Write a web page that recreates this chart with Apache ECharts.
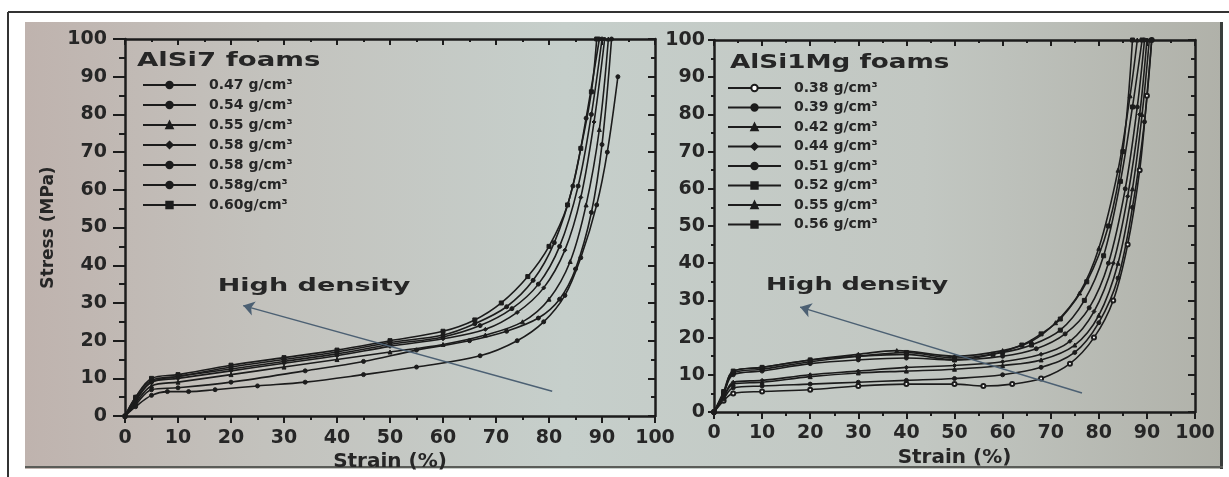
<!DOCTYPE html>
<html>
<head>
<meta charset="utf-8">
<script src="https://cdn.jsdelivr.net/npm/echarts@6/dist/echarts.min.js"></script>
<style>
html,body{margin:0;padding:0;background:#fff;}
#main{width:1229px;height:477px;}
</style>
</head>
<body>
<div id="main"></div>
<script>
// ---- AlSi7 foams (left panel) ----
var alsi7Labels = ['0.47 g/cm³','0.54 g/cm³','0.55 g/cm³','0.58 g/cm³','0.58 g/cm³','0.58g/cm³','0.60g/cm³'];
var alsi7Symbols = ['circle','circle','triangle','diamond','circle','circle','rect'];
var alsi7_047 = [[0,0],[2,2.5],[5,5.5],[8,6.5],[12,6.5],[17,7],[25,8],[34,9],[45,11],[55,13],[67,16],[74,20],[79,25],[83,32],[86,42],[89,56],[91,70],[93,90]];
var alsi7_054 = [[0,0],[2,3],[5,7],[10,7.5],[20,9],[34,12],[45,14.5],[55,17.5],[65,20],[72,22.5],[78,26],[82,31],[85,39],[88,54],[90,72],[91.8,100]];
var alsi7_055 = [[0,0],[2,3.5],[5,8],[10,9],[20,11],[30,13],[40,15],[50,17],[60,19],[68,21.5],[75,25],[80,31],[84,41],[87,56],[89.5,76],[91.2,100]];
var alsi7_058a = [[0,0],[2,4],[5,9],[10,10],[20,12],[30,14],[40,16],[50,18.5],[60,20.5],[68,23],[74,27.5],[79,34],[83,44],[86,58],[88.5,78],[90.5,100]];
var alsi7_058b = [[0,0],[2,4.5],[5,9],[10,10.5],[20,12.5],[30,14.5],[40,16.5],[50,19],[60,21],[67,24],[73,28.5],[78,35],[82,45],[85.5,61],[88,80],[90,100]];
var alsi7_058c = [[0,0],[2,5],[5,9.5],[10,10.5],[20,13],[30,15],[40,17],[50,19.5],[60,21.5],[66,24.5],[72,29],[77,36],[81,46],[84.5,61],[87,79],[89.5,100]];
var alsi7_060 = [[0,0],[2,5],[5,10],[10,11],[20,13.5],[30,15.5],[40,17.5],[50,20],[60,22.5],[66,25.5],[71,30],[76,37],[80,45],[83.5,56],[86,71],[88,86],[89,100]];
var alsi7Data = [alsi7_047, alsi7_054, alsi7_055, alsi7_058a, alsi7_058b, alsi7_058c, alsi7_060];

// ---- AlSi1Mg foams (right panel) ----
var mgLabels = ['0.38 g/cm³','0.39 g/cm³','0.42 g/cm³','0.44 g/cm³','0.51 g/cm³','0.52 g/cm³','0.55 g/cm³','0.56 g/cm³'];
var mgSymbols = ['emptyCircle','circle','triangle','diamond','circle','rect','triangle','rect'];
var mg_038 = [[0,0],[2,3],[4,5],[10,5.5],[20,6],[30,7],[40,7.5],[50,7.5],[56,7],[62,7.5],[68,9],[74,13],[79,20],[83,30],[86,45],[88.5,65],[90,85],[91,100]];
var mg_039 = [[0,0],[2,3.5],[4,6.5],[10,7],[20,7.5],[30,8],[40,8.5],[50,9],[60,10],[68,12],[75,16],[80,24],[84,36],[87,55],[89.5,78],[91,100]];
var mg_042 = [[0,0],[2,4],[4,7.5],[10,8],[20,9.5],[30,10.5],[40,11],[50,11.5],[60,12.5],[68,14],[75,18],[80,26],[84,40],[87,60],[89,80],[90.5,100]];
var mg_044 = [[0,0],[2,4],[4,8],[10,8.5],[20,10],[30,11],[40,12],[50,12.5],[60,13.5],[68,15.5],[74,19],[79,27],[83,40],[86,58],[88.5,80],[90,100]];
var mg_051 = [[0,0],[2,5],[4,10],[10,11],[20,13],[30,14],[40,14.5],[50,14],[60,15],[67,17],[73,21],[78,28],[82,40],[85.5,60],[88,82],[89.5,100]];
var mg_052 = [[0,0],[2,5],[4,10.5],[10,11.5],[20,13.5],[30,15],[40,16],[50,14.5],[60,16],[66,18],[72,22],[77,30],[81,42],[84.5,62],[87,82],[89,100]];
var mg_055 = [[0,0],[2,5],[4,11],[10,12],[20,14],[30,15.5],[38,16.5],[50,15],[60,16.5],[66,19],[71,24],[76,32],[80,44],[84,65],[86.5,85],[88,100]];
var mg_056 = [[0,0],[2,5.5],[4,11],[10,12],[20,14],[30,15],[40,15.5],[50,14],[58,15.5],[64,18],[68,21],[72,25],[77.5,35],[82,50],[85,70],[87,100]];
var mgData = [mg_038, mg_039, mg_042, mg_044, mg_051, mg_052, mg_055, mg_056];

// arrows "High density" [start, head] in data units
var arrow7 = [[80.6, 6.6], [22.3, 29.3]];
var arrowMg = [[76.5, 5.1], [17.9, 28.2]];

var FONT = '"DejaVu Sans", "Liberation Sans", sans-serif';
var INK = '#1c1c1c';
var TXT = '#262626';

var chart = echarts.init(document.getElementById('main'));

function makeSeries(labels, data, symbols, idx, arrow) {
    return labels.map(function (lab, i) {
        var s = {
            type: 'line',
            name: lab + '|' + i,
            xAxisIndex: idx * 2,
            yAxisIndex: idx * 2,
            data: data[i],
            smooth: 0.35,
            symbol: symbols[i],
            symbolSize: 4,
            showAllSymbol: true,
            clip: true,
            lineStyle: {color: INK, width: 1.6},
            itemStyle: {color: INK, borderColor: INK, borderWidth: 1},
            emphasis: {disabled: true}
        };
        if (i === 0) {
            s.markLine = {
                silent: true,
                symbol: ['none', 'arrow'],
                symbolSize: 11,
                label: {show: false},
                lineStyle: {color: '#4c6073', width: 1.5, type: 'solid'},
                data: [[{coord: arrow[0]}, {coord: arrow[1]}]]
            };
        }
        return s;
    });
}

function axisBase(grid) {
    return {
        gridIndex: grid, type: 'value', min: 0, max: 100, interval: 10,
        axisLine: {onZero: false, lineStyle: {color: INK, width: 2.5}},
        splitLine: {show: false}
    };
}

function xBottom(grid, gap) {
    var a = axisBase(grid);
    a.position = 'bottom';
    a.axisTick = {show: true, inside: false, length: 7, lineStyle: {color: INK, width: 2}};
    a.minorTick = {show: true, splitNumber: 2, length: 4, lineStyle: {color: INK, width: 2}};
    a.axisLabel = {fontFamily: FONT, fontWeight: 'bold', fontSize: 19, color: TXT, margin: 12};
    a.name = 'Strain (%)';
    a.nameLocation = 'middle';
    a.nameGap = gap;
    a.nameTextStyle = {fontFamily: FONT, fontWeight: 'bold', fontSize: 20, color: TXT};
    return a;
}
function xTop(grid) {
    var a = axisBase(grid);
    a.position = 'top';
    a.axisTick = {show: true, inside: true, length: 6, lineStyle: {color: INK, width: 2}};
    a.minorTick = {show: true, splitNumber: 2, length: 3, lineStyle: {color: INK, width: 2}};
    a.axisLabel = {show: false};
    return a;
}
function yLeft(grid, tick, margin, name) {
    var a = axisBase(grid);
    a.position = 'left';
    a.axisTick = {show: true, inside: false, length: tick, lineStyle: {color: INK, width: 2}};
    a.minorTick = {show: true, splitNumber: 2, length: tick / 2, lineStyle: {color: INK, width: 2}};
    a.axisLabel = {fontFamily: FONT, fontWeight: 'bold', fontSize: 19, color: TXT, margin: margin};
    if (name) {
        a.name = name;
        a.nameLocation = 'middle';
        a.nameGap = 68;
        a.nameTextStyle = {fontFamily: FONT, fontWeight: 'bold', fontSize: 17, color: TXT};
    }
    return a;
}
function yRight(grid) {
    var a = axisBase(grid);
    a.position = 'right';
    a.axisTick = {show: true, inside: true, length: 7, lineStyle: {color: INK, width: 2}};
    a.minorTick = {show: true, splitNumber: 2, length: 4, lineStyle: {color: INK, width: 2}};
    a.axisLabel = {show: false};
    return a;
}

function legendOf(labels, left, top, gap) {
    return {
        data: labels.map(function (l, i) { return l + '|' + i; }),
        orient: 'vertical', left: left, top: top,
        itemWidth: 53, itemHeight: 8, itemGap: gap,
        selectedMode: false,
        formatter: function (n) { return n.split('|')[0]; },
        textStyle: {fontFamily: FONT, fontWeight: 'bold', fontSize: 14, lineHeight: 14, color: TXT, padding: [0, 0, 0, 8]}
    };
}

var option = {
    animation: false,
    backgroundColor: '#ffffff',
    grid: [
        {left: 125, top: 39, width: 530, height: 379},
        {left: 714, top: 40, width: 481, height: 372}
    ],
    xAxis: [xBottom(0, 30), xTop(0), xBottom(1, 33), xTop(1)],
    yAxis: [yLeft(0, 12, 18, 'Stress (MPa)'), yRight(0), yLeft(1, 6, 9), yRight(1)],
    legend: [legendOf(alsi7Labels, 137, 73, 6), legendOf(mgLabels, 722, 76, 5.5)],
    series: makeSeries(alsi7Labels, alsi7Data, alsi7Symbols, 0, arrow7)
        .concat(makeSeries(mgLabels, mgData, mgSymbols, 1, arrowMg))
};
chart.setOption(option);

// photo background, frame and text annotations
var p7 = chart.convertToPixel({gridIndex: 0}, [17.5, 34.3]);
var pMg = chart.convertToPixel({gridIndex: 1}, [10.8, 34.1]);
function label(text, x, y, size, sx) {
    return {
        type: 'text', x: x, y: y, scaleX: sx, z: 50, silent: true,
        style: {text: text, fontFamily: FONT, fontWeight: 'bold', fontSize: size, fill: TXT, verticalAlign: 'middle'}
    };
}
chart.setOption({
    graphic: [
        {
            type: 'rect', z: -10, silent: true,
            shape: {x: 25, y: 22, width: 1198, height: 447},
            style: {
                fill: new echarts.graphic.LinearGradient(0, 0, 1, 0, [
                    {offset: 0, color: '#bfb3ae'},
                    {offset: 0.2, color: '#c3c2bd'},
                    {offset: 0.45, color: '#c6cfcb'},
                    {offset: 0.75, color: '#c2c7c2'},
                    {offset: 1, color: '#b0b1a9'}
                ])
            }
        },
        {type: 'rect', z: -9, silent: true, shape: {x: 1220, y: 22, width: 3, height: 447}, style: {fill: '#3a3d3b'}},
        {type: 'rect', z: -9, silent: true, shape: {x: 25, y: 466, width: 1198, height: 2}, style: {fill: '#5a5c58'}},
        {type: 'line', z: -9, silent: true, shape: {x1: 8, y1: 12, x2: 1229, y2: 12}, style: {stroke: '#333', lineWidth: 2}},
        {type: 'line', z: -9, silent: true, shape: {x1: 8, y1: 12, x2: 8, y2: 477}, style: {stroke: '#333', lineWidth: 2}},
        label('AlSi7 foams', 137, 61, 19, 1.45),
        label('AlSi1Mg foams', 730, 63, 19, 1.38),
        label('High density', p7[0], p7[1], 18, 1.5),
        label('High density', pMg[0], pMg[1], 18, 1.42)
    ]
});
</script>
</body>
</html>
